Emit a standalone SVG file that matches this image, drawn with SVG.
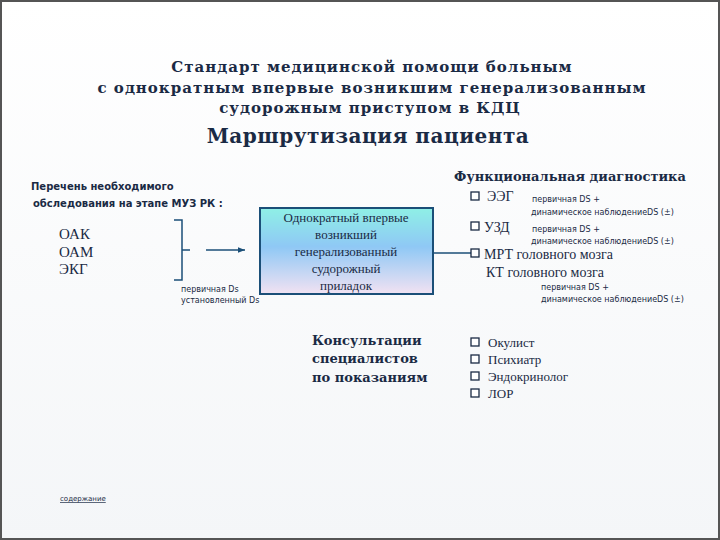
<svg xmlns="http://www.w3.org/2000/svg" width="720" height="540" viewBox="0 0 720 540">
<defs>
<linearGradient id="bg" x1="0" y1="0" x2="0" y2="1"><stop offset="0" stop-color="#ffffff"/><stop offset="1" stop-color="#f4f6f8"/></linearGradient>
<linearGradient id="bx" x1="0" y1="0" x2="0" y2="1"><stop offset="0" stop-color="#8ff0e6"/><stop offset="0.45" stop-color="#8fc8f5"/><stop offset="1" stop-color="#f2e2f2"/></linearGradient>
<marker id="ar" markerWidth="6" markerHeight="6" refX="5" refY="3" orient="auto"><path d="M0,1 L5,3 L0,5 Z" fill="#1b4f78"/></marker>
</defs>
<style>
.s{font-family:"Liberation Serif","DejaVu Serif",serif;fill:#1a2a44}
.t{font-family:"DejaVu Serif",serif;font-weight:bold;fill:#1a2a44}
.n{font-family:"DejaVu Sans","Liberation Sans",sans-serif;fill:#1a2a44}
.cb{fill:#fff;stroke:#1a2a44;stroke-width:1.3}
.ln{stroke:#1b4f78;stroke-width:1.5;fill:none}
</style>
<rect x="0" y="0" width="720" height="540" fill="url(#bg)"/>
<rect x="1" y="1" width="718" height="538" fill="none" stroke="#555" stroke-width="2"/>
<g id="title">
<text class="t" x="372" y="72" font-size="15" letter-spacing="1" text-anchor="middle">Стандарт медицинской помощи больным</text>
<text class="t" x="372" y="93" font-size="15" letter-spacing="1" text-anchor="middle">с однократным впервые возникшим генерализованным</text>
<text class="t" x="370" y="113" font-size="15" letter-spacing="1" text-anchor="middle">судорожным приступом в  КДЦ</text>
<text class="t" x="368" y="143" font-size="20" letter-spacing="0.5" text-anchor="middle">Маршрутизация пациента</text>
</g>
<g id="list">
<text class="n" x="31" y="190" font-size="10" font-weight="bold">Перечень необходимого</text>
<text class="n" x="33" y="207" font-size="10" font-weight="bold">обследования на этапе МУЗ РК :</text>
<text class="s" x="59" y="239" font-size="15">ОАК</text>
<text class="s" x="59" y="257" font-size="15">ОАМ</text>
<text class="s" x="59" y="274" font-size="15">ЭКГ</text>
<path class="ln" d="M174,220 H182 V280 H174 M182,250 H190"/>
<text class="n" x="181" y="292" font-size="8">первичная Ds</text>
<text class="n" x="181" y="303" font-size="8">установленный Ds</text>
</g>
<g id="connectors">
<line class="ln" x1="206" y1="250" x2="245" y2="250" marker-end="url(#ar)"/>
<line class="ln" x1="434" y1="253" x2="472" y2="253"/>
</g>
<g id="event">
<rect x="260" y="208" width="173" height="86" fill="url(#bx)" stroke="#1b4f78" stroke-width="2"/>
<text class="s" text-anchor="middle" font-size="13"><tspan x="346" y="222">Однократный впервые</tspan><tspan x="346" y="239">возникший</tspan><tspan x="346" y="256">генерализованный</tspan><tspan x="346" y="273">судорожный</tspan><tspan x="346" y="290">приладок</tspan></text>
</g>
<g id="func">
<text class="t" x="570" y="181" font-size="13" text-anchor="middle" font-weight="normal">Функциональная диагностика</text>
<rect class="cb" x="471" y="192" width="8" height="8"/>
<text class="s" x="487" y="201" font-size="14">ЭЭГ</text>
<text class="n" x="532" y="202" font-size="8">первичная DS +</text>
<text class="n" x="531" y="215" font-size="8">динамическое наблюдениеDS (±)</text>
<rect class="cb" x="471" y="222" width="8" height="8"/>
<text class="s" x="484" y="232" font-size="14">УЗД</text>
<text class="n" x="532" y="232" font-size="8">первичная DS  +</text>
<text class="n" x="531" y="244" font-size="8">динамическое наблюдениеDS (±)</text>
<rect class="cb" x="471" y="249" width="8" height="8"/>
<text class="s" x="484" y="259" font-size="14">МРТ головного мозга</text>
<text class="s" x="486" y="277" font-size="14">КТ головного мозга</text>
<text class="n" x="541" y="290" font-size="8">первичная DS +</text>
<text class="n" x="541" y="302" font-size="8">динамическое наблюдениеDS (±)</text>
</g>
<g id="consult">
<text class="t" font-size="13" font-weight="normal"><tspan x="312" y="345">Консультации</tspan><tspan x="312" y="363">специалистов</tspan><tspan x="312" y="382">по показаниям</tspan></text>
</g>
<g id="specialists">
<rect class="cb" x="471" y="338" width="8" height="8"/><text class="s" x="488" y="347" font-size="13">Окулист</text>
<rect class="cb" x="471" y="355" width="8" height="8"/><text class="s" x="488" y="364" font-size="13">Психиатр</text>
<rect class="cb" x="471" y="372" width="8" height="8"/><text class="s" x="488" y="381" font-size="13">Эндокринолог</text>
<rect class="cb" x="471" y="389" width="8" height="8"/><text class="s" x="488" y="398" font-size="13">ЛОР</text>
</g>
<g id="link">
<text class="n" x="60" y="501" font-size="7" text-decoration="underline">содержание</text>
</g>
</svg>
